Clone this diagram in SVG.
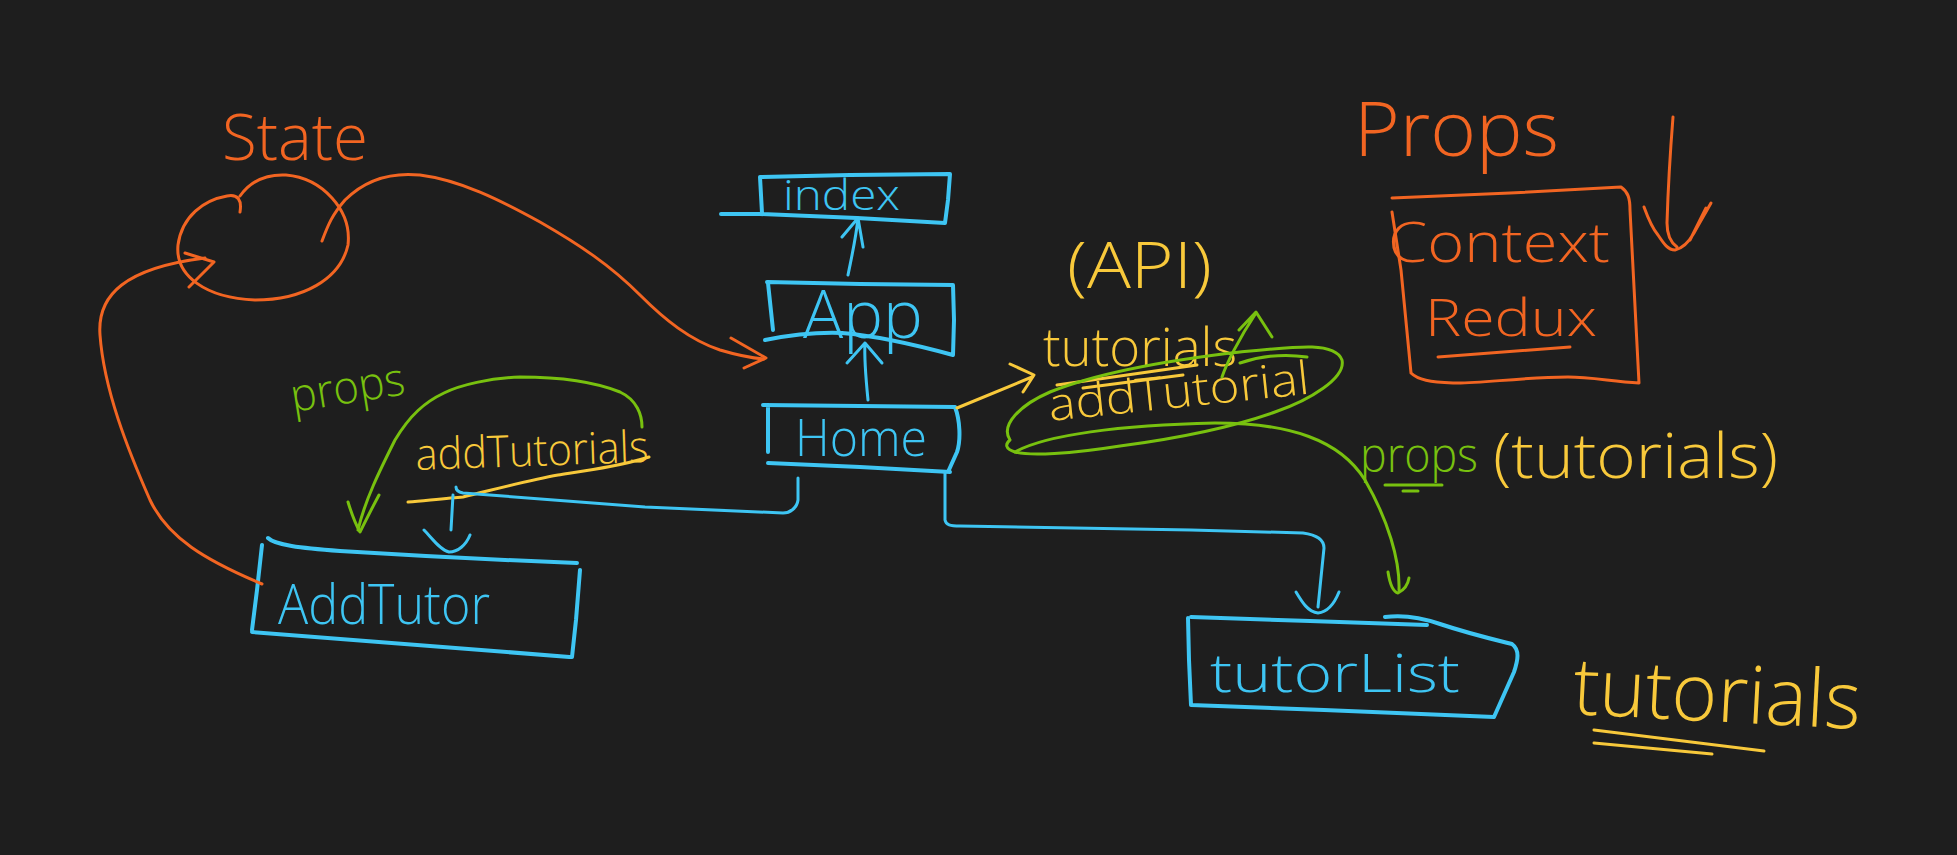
<svg xmlns="http://www.w3.org/2000/svg" width="1957" height="855" viewBox="0 0 1957 855">
<style>
.bg{fill:#1e1e1e}
.s{fill:none;stroke-linecap:round;stroke-linejoin:round}
.o{stroke:#f26522;stroke-width:3}
.b{stroke:#3ec5f3;stroke-width:4}
.bt{stroke:#3ec5f3;stroke-width:3}
.y{stroke:#f8c93b;stroke-width:3}
.g{stroke:#78c10f;stroke-width:3}
text{font-family:"Open Sans","Liberation Sans",sans-serif;font-weight:300}
.to{fill:#f26522}.tb{fill:#3ec5f3}.ty{fill:#f8c93b}.tg{fill:#78c10f}
</style>
<rect class="bg" x="0" y="0" width="1957" height="855"/>

<g id="state">
<path class="s o" d="M240,212 C242,200 238,194 227,196 C204,200 182,216 178,245 C175,276 206,298 255,300 C302,300 340,280 348,245 C352,210 322,178 286,175 C266,174 250,182 240,196"/>
<text class="to" x="222" y="160" font-size="64" textLength="146" lengthAdjust="spacingAndGlyphs">State</text>
</g>

<g id="index">
<path class="s b" d="M760,177 L850,175 L950,174 L948,200 L945,223 M721,214 L760,214 L857,218 L945,223 M760,177 L762,213"/>
<text class="tb" x="783" y="210" font-size="42" textLength="117" lengthAdjust="spacingAndGlyphs">index</text>
</g>

<g id="app">
<path class="s b" d="M767,282 L860,284 L953,285 L954,320 L953,355 M768,283 L773,330 M765,340 C790,335 815,332 842,333 C880,336 920,346 953,355"/>
<text class="tb" x="803" y="338" font-size="66" textLength="120" lengthAdjust="spacingAndGlyphs">App</text>
</g>

<g id="home">
<path class="s b" d="M763,405 L860,406 L955,407 C960,420 961,440 957,452 L948,472 M768,405 L768,452 M768,463 L860,467 L950,472"/>
<text class="tb" x="795" y="456" font-size="52" textLength="132" lengthAdjust="spacingAndGlyphs">Home</text>
</g>

<g id="addtutor">
<path class="s b" d="M268,538 C275,545 300,548 340,551 C420,556 500,560 577,563 M262,545 L257,590 L252,630 M252,632 C330,638 450,648 570,657 M580,570 L576,620 L572,657"/>
<text class="tb" x="278" y="624" font-size="56" textLength="212" lengthAdjust="spacingAndGlyphs">AddTutor</text>
</g>

<g id="tutorlist">
<path class="s b" d="M1191,617 L1310,621 L1427,625 M1385,617 C1400,615 1420,617 1440,624 C1470,634 1500,641 1512,644 C1520,650 1518,660 1514,672 L1494,717 M1494,717 L1324,710 L1191,705 M1191,705 L1189,660 L1188,618"/>
<text class="tb" x="1210" y="692" font-size="54" textLength="250" lengthAdjust="spacingAndGlyphs">tutorList</text>
</g>

<g id="context">
<path class="s o" d="M1392,198 L1510,193 L1621,187 C1628,192 1630,198 1630,210 L1639,383 C1610,381 1590,377 1568,377 C1520,377 1480,384 1453,383 C1430,382 1418,380 1411,373 L1401,270 L1392,212 M1438,357 L1570,347"/>
<text class="to" x="1388" y="262" font-size="56" textLength="222" lengthAdjust="spacingAndGlyphs">Context</text>
<text class="to" x="1425" y="336" font-size="52" textLength="172" lengthAdjust="spacingAndGlyphs">Redux</text>
</g>

<g id="labels">
<text class="to" x="1354" y="156" font-size="76" textLength="205" lengthAdjust="spacingAndGlyphs">Props</text>
<text class="tg" x="293" y="412" font-size="46" textLength="115" lengthAdjust="spacingAndGlyphs" transform="rotate(-9 293 412)">props</text>
<text class="ty" x="416" y="470" font-size="44" textLength="233" lengthAdjust="spacingAndGlyphs" transform="rotate(-2 416 470)">addTutorials</text>
<text class="ty" x="1067" y="288" font-size="64" textLength="145" lengthAdjust="spacingAndGlyphs">(API)</text>
<text class="ty" x="1043" y="366" font-size="54" textLength="194" lengthAdjust="spacingAndGlyphs">tutorials</text>
<text class="ty" x="1050" y="421" font-size="46" textLength="262" lengthAdjust="spacingAndGlyphs" transform="rotate(-6 1050 421)">addTutorial</text>
<text class="tg" x="1360" y="472" font-size="47" textLength="118" lengthAdjust="spacingAndGlyphs">props</text>
<text class="ty" x="1493" y="478" font-size="62" textLength="285" lengthAdjust="spacingAndGlyphs">(tutorials)</text>
<text class="ty" x="1572" y="714" font-size="80" textLength="288" lengthAdjust="spacingAndGlyphs" transform="rotate(3 1572 714)">tutorials</text>
<path class="s y" d="M1057,385 L1197,365 M1083,388 L1183,375"/>
<path class="s y" d="M408,502 C430,500 450,498 463,497 C500,488 530,480 558,475 C590,470 620,466 649,457"/>
<path class="s g" d="M1385,485 L1442,485 M1403,491 L1418,491"/>
<path class="s y" d="M1594,730 L1764,751 M1594,743 L1712,754"/>
</g>

<g id="connectors">
<path class="s o" d="M322,241 C328,225 332,215 345,200 C365,180 390,172 420,175 C460,180 500,200 540,222 C580,245 610,265 640,295 C665,320 690,340 720,350 C740,356 752,358 764,359"/>
<path class="s o" d="M731,338 L766,358 L744,368"/>
<path class="s o" d="M262,584 C205,560 168,538 150,500 C128,450 104,390 100,335 C97,295 125,268 205,258"/>
<path class="s o" d="M185,253 L214,262 L189,287"/>
<path class="s bt" d="M848,275 C852,255 856,238 858,218 M842,237 L858,218 L863,247"/>
<path class="s bt" d="M868,400 C866,380 864,360 865,343 M847,363 L865,343 L882,363"/>
<path class="s bt" d="M798,478 L798,500 C797,508 790,513 783,513 L645,507 L463,493 C458,492 456,490 456,487"/>
<path class="s bt" d="M453,495 L451,530 M424,530 C432,538 440,550 449,552 C458,552 466,545 470,535"/>
<path class="s bt" d="M945,472 L945,520 C946,525 950,526 960,526 L1191,530 L1303,533 C1318,535 1324,540 1324,548 L1318,607"/>
<path class="s bt" d="M1296,592 C1302,602 1308,612 1318,613 C1328,612 1335,602 1339,592"/>
<path class="s y" d="M957,408 L1032,377 M1010,364 L1034,375 L1023,392"/>
<path class="s g" d="M1240,363 C1255,358 1280,353 1307,357 M1010,440 C1000,425 1020,405 1050,392 C1100,372 1170,360 1240,352 C1300,346 1335,342 1342,360 C1346,378 1310,400 1275,412 C1230,428 1180,438 1120,446 C1070,454 1030,456 1015,452 C1005,449 1005,444 1010,440"/>
<path class="s g" d="M1222,377 C1226,365 1238,340 1256,313 M1239,330 L1256,312 L1272,337"/>
<path class="s g" d="M1015,452 C1045,435 1120,425 1215,423 C1290,423 1340,440 1365,480 C1388,520 1400,560 1399,590"/>
<path class="s g" d="M1388,572 C1390,585 1394,592 1398,593 C1404,590 1408,584 1409,578"/>
<path class="s g" d="M642,427 C642,415 637,400 620,392 C595,382 560,377 520,377 C490,378 460,385 444,393 C425,402 410,415 395,440 C380,470 365,500 358,530"/>
<path class="s g" d="M348,502 C352,515 356,525 360,532 C366,520 372,508 379,495"/>
<path class="s o" d="M1673,117 C1670,155 1668,190 1667,223 C1667,235 1670,242 1677,247"/>
<path class="s o" d="M1644,207 C1648,218 1652,228 1658,235 C1664,244 1668,250 1675,250 C1684,248 1690,240 1694,233 C1700,222 1706,212 1711,203 M1706,208 L1690,240"/>
</g>
</svg>
